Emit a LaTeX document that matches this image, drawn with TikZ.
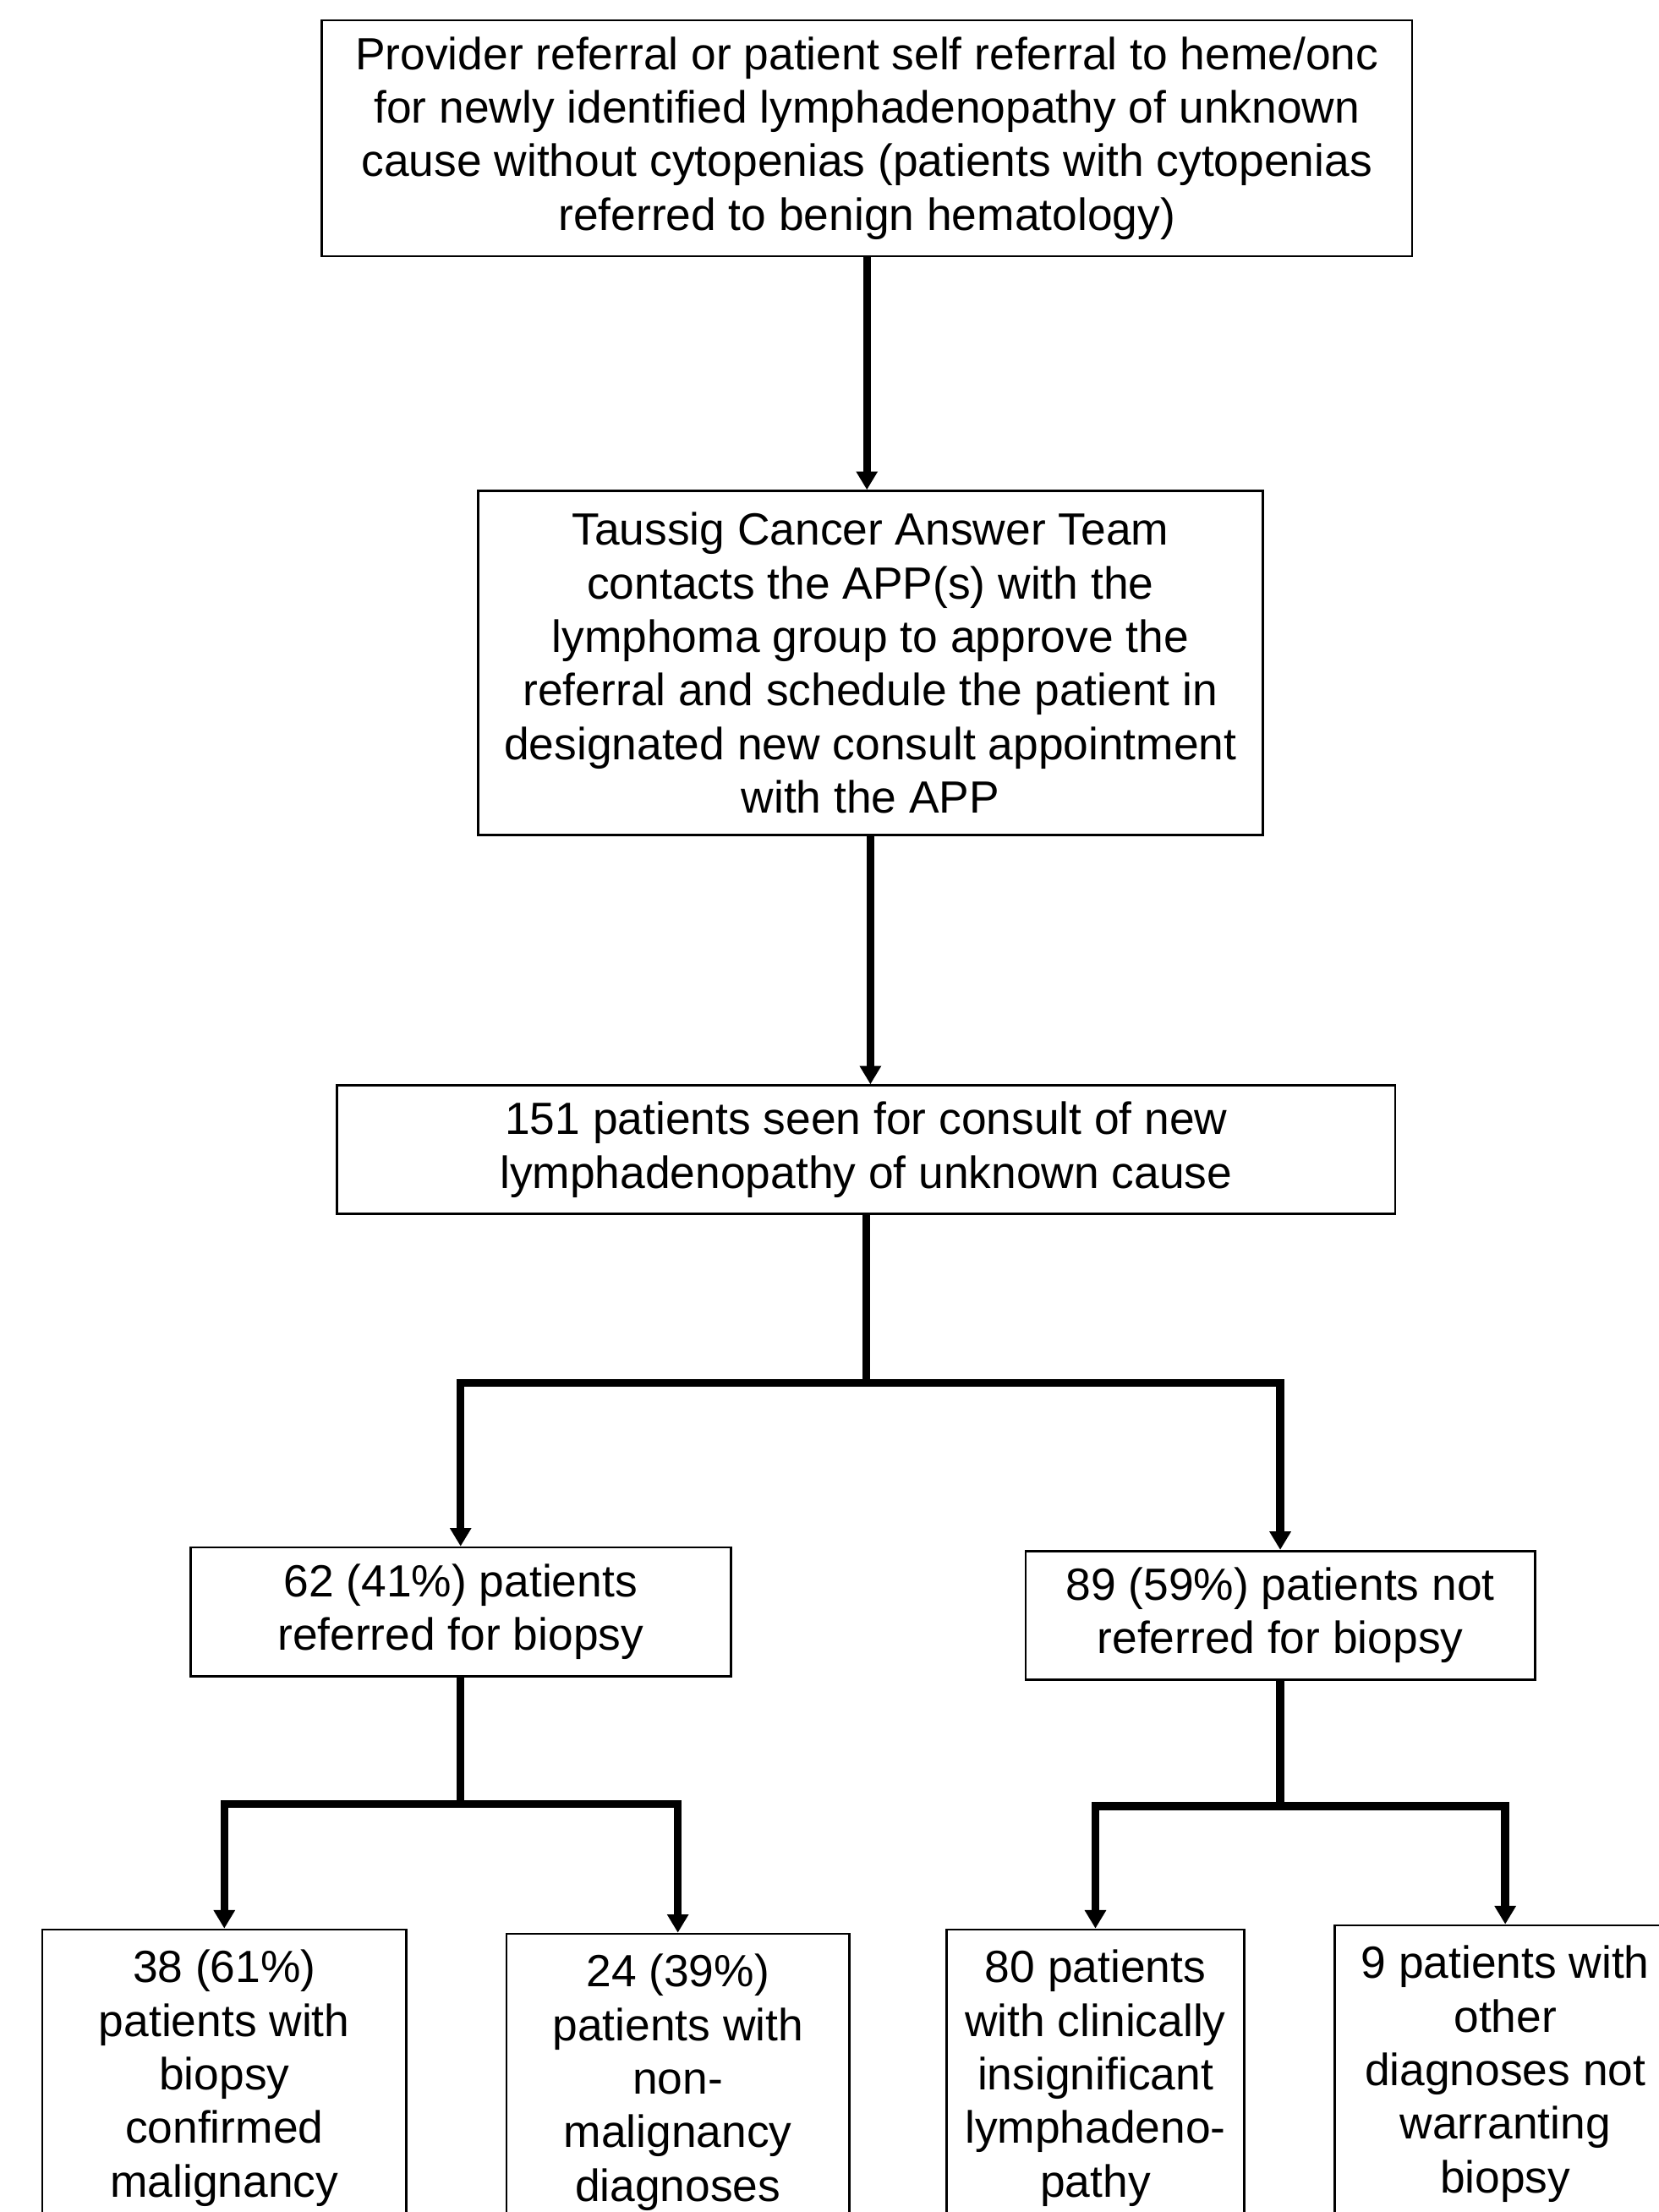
\documentclass[tikz,border=0pt]{standalone}
\usepackage{fontspec}
\setmainfont{Liberation Sans}
\usetikzlibrary{arrows.meta}
\tikzset {>={Triangle[length=1.3mm,width=1.45mm]}}
\tikzset{
  box/.style={draw,line width=0.45pt,align=center,inner xsep=0pt,
    font=\fontsize{9.1}{10.8}\selectfont},
  leafbox/.style={box,anchor=north,inner ysep=1.45mm},
  link/.style={line width=1.6pt},
  flow/.style={link,->}
}

\begin{document}
\begin{tikzpicture}[scale=1]
\useasboundingbox (0,0) rectangle (11.76,-15.68);

\node[box,minimum width=7.73cm,minimum height=1.66cm] (refer) at (6.145,-0.98)
  {Provider referral or patient self referral to heme/onc\\
   for newly identified lymphadenopathy of unknown\\
   cause without cytopenias (patients with cytopenias\\
   referred to benign hematology)};
\node[box,minimum width=5.56cm,minimum height=2.44cm] (team) at (6.17,-4.70)
  {Taussig Cancer Answer Team\\
   contacts the APP(s) with the\\
   lymphoma group to approve the\\
   referral and schedule the patient in\\
   designated new consult appointment\\
   with the APP};
\node[box,minimum width=7.50cm,minimum height=0.88cm] (seen) at (6.14,-8.15)
  {151 patients seen for consult of new\\
   lymphadenopathy of unknown cause};
\node[box,minimum width=3.83cm,minimum height=0.89cm] (biopsy) at (3.265,-11.425)
  {62 (41\%) patients\\ referred for biopsy};
\node[box,minimum width=3.61cm,minimum height=0.88cm] (nobiopsy) at (9.075,-11.45)
  {89 (59\%) patients not\\ referred for biopsy};

\node[leafbox,minimum width=2.58cm] (malig) at (1.59,-13.67)
  {38 (61\%)\\ patients with\\ biopsy\\ confirmed\\ malignancy};
\node[leafbox,minimum width=2.43cm] (nonmalig) at (4.805,-13.70)
  {24 (39\%)\\ patients with\\ non-\\ malignancy\\ diagnoses};
\node[leafbox,minimum width=2.11cm] (insig) at (7.765,-13.67)
  {80 patients\\ with clinically\\ insignificant\\ lymphadeno-\\ pathy};
\node[leafbox,minimum width=2.42cm] (other) at (10.67,-13.64)
  {9 patients with\\ other\\ diagnoses not\\ warranting\\ biopsy};

\draw[flow] (refer.south) -- (refer.south |- team.north);
\draw[flow] (team.south) -- (team.south |- seen.north);

\draw[link] (seen.south) -- ++(0,-1.19) coordinate (split);
\draw[flow] (split) -| (biopsy.north);
\draw[flow] (split) -| (nobiopsy.north);

\draw[link] (biopsy.south) -- ++(0,-0.90) coordinate (splitL);
\draw[flow] (splitL) -| (malig.north);
\draw[flow] (splitL) -| (nonmalig.north);

\draw[link] (nobiopsy.south) -- ++(0,-0.89) coordinate (splitR);
\draw[flow] (splitR) -| (insig.north);
\draw[flow] (splitR) -| (other.north);
\end{tikzpicture}
\end{document}
